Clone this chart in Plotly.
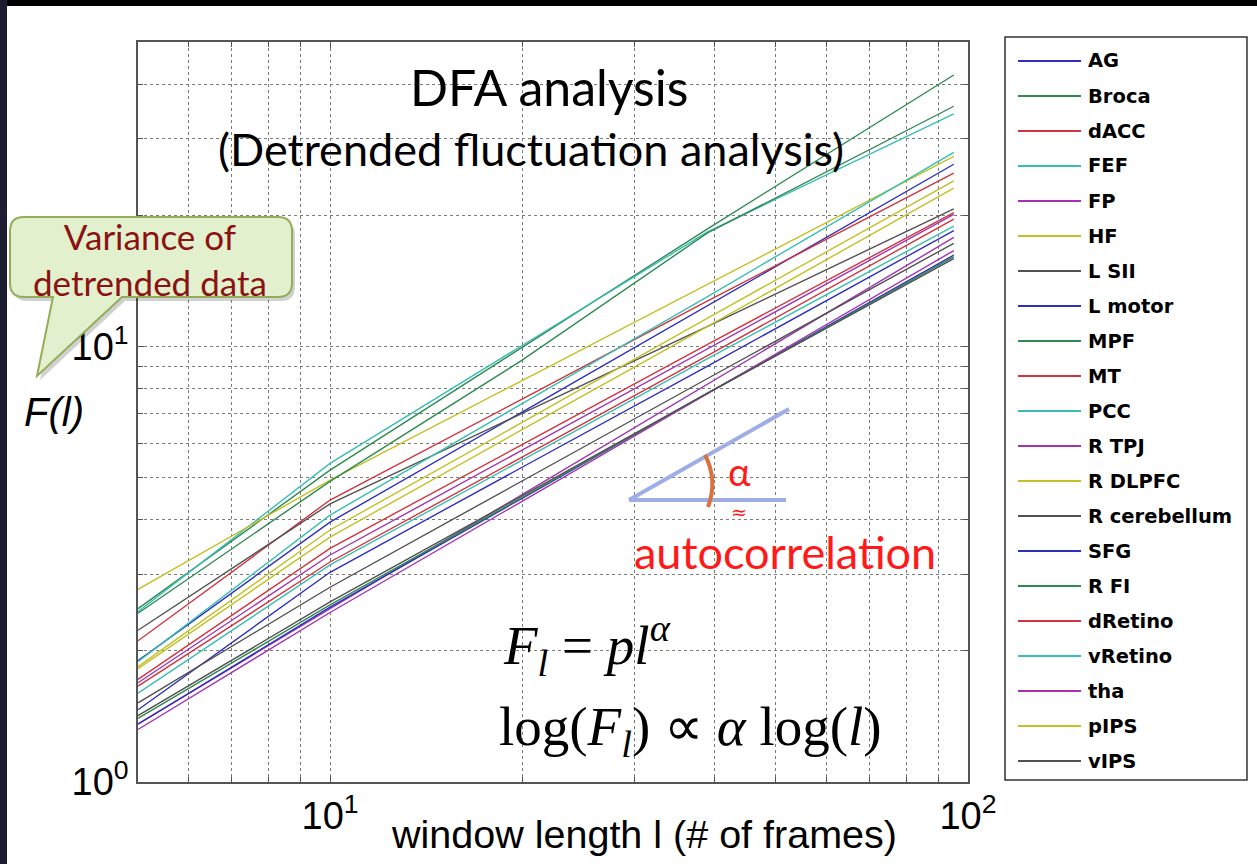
import plotly.graph_objects as go

# ---------------- data ----------------
window_length = [5, 10, 20, 39, 95]

regions = ["AG", "Broca", "dACC", "FEF", "FP", "HF", "L SII", "L motor", "MPF", "MT",
           "PCC", "R TPJ", "R DLPFC", "R cerebellum", "SFG", "R FI", "dRetino",
           "vRetino", "tha", "pIPS", "vIPS"]

F_AG          = [1.90, 3.95, 7.07, 12.4, 26.2]
F_Broca       = [2.50, 5.20, 9.95, 18.6, 42.0]
F_dACC        = [2.11, 4.44, 7.57, 12.7, 25.0]
F_FEF         = [2.46, 5.39, 10.05, 18.3, 34.2]
F_FP          = [1.69, 3.32, 5.78, 9.86, 20.1]
F_HF          = [2.77, 4.93, 8.35, 13.9, 27.3]
F_L_SII       = [2.23, 4.35, 7.02, 11.1, 20.7]
F_L_motor     = [1.465, 3.03, 5.28, 9.00, 18.45]
F_MPF         = [2.44, 4.90, 9.30, 18.2, 35.6]
F_MT          = [1.72, 3.44, 5.95, 10.1, 20.3]
F_PCC         = [1.89, 4.10, 7.39, 13.0, 27.9]
F_R_TPJ       = [1.36, 2.50, 4.57, 8.17, 17.8]
F_R_DLPFC     = [1.84, 3.79, 6.69, 11.6, 24.0]
F_R_cerebellum= [1.52, 2.80, 4.91, 8.43, 17.25]
F_SFG         = [1.357, 2.52, 4.48, 7.80, 16.2]
F_R_FI        = [1.40, 2.55, 4.50, 7.79, 16.05]
F_dRetino     = [1.66, 3.20, 5.57, 9.51, 19.6]
F_vRetino     = [1.60, 3.15, 5.48, 9.36, 18.9]
F_tha         = [1.32, 2.45, 4.41, 7.79, 16.6]
F_pIPS        = [1.82, 3.65, 6.44, 11.1, 23.1]
F_vIPS        = [1.42, 2.59, 4.54, 7.80, 15.9]

series_values = [F_AG, F_Broca, F_dACC, F_FEF, F_FP, F_HF, F_L_SII, F_L_motor, F_MPF,
                 F_MT, F_PCC, F_R_TPJ, F_R_DLPFC, F_R_cerebellum, F_SFG, F_R_FI,
                 F_dRetino, F_vRetino, F_tha, F_pIPS, F_vIPS]

x_tick_vals = [10, 100]
x_tick_text = ["10<sup>1</sup>", "10<sup>2</sup>"]
y_tick_vals = [1, 10]
y_tick_text = ["10<sup>0</sup>", "10<sup>1</sup>"]
x_minor = [6, 7, 8, 9, 20, 30, 40, 50, 60, 70, 80, 90]
y_minor = [2, 3, 4, 5, 6, 7, 8, 9, 20, 30, 40]

# ---------------- styles ----------------
palette = ["#2f2fbf", "#2f8a50", "#d0343f", "#38beb2", "#a234b2", "#c2c024", "#525252"]

W, H = 1257, 864
ML, MR, MT, MB = 138, 289, 42, 82
PW, PH = W - ML - MR, H - MT - MB


def px(x):
    return (x - ML) / PW


def py(y):
    return (H - MB - y) / PH


def P(x, y):
    return f"{px(x):.5f},{py(y):.5f}"


fig = go.Figure()
for i, (name, vals) in enumerate(zip(regions, series_values)):
    fig.add_trace(go.Scatter(x=window_length, y=vals, mode="lines", name=name,
                             line=dict(color=palette[i % 7], width=1.4),
                             showlegend=False))

grid_col = "#7c7c7c"
axis_common = dict(type="log", showline=True, linecolor="#555555", linewidth=1.5,
                   mirror="allticks", ticks="inside", ticklen=6, tickcolor="#555555",
                   showgrid=True, gridcolor=grid_col, griddash="dot", gridwidth=1.2,
                   zeroline=False,
                   tickfont=dict(family="Liberation Sans, Arial", size=38, color="black"))

fig.update_xaxes(range=[0.69897, 2.0], tickmode="array", tickvals=x_tick_vals,
                 ticktext=x_tick_text,
                 minor=dict(tickmode="array", tickvals=x_minor, ticks="inside", ticklen=5,
                            tickcolor="#555555", showgrid=True, gridcolor=grid_col,
                            griddash="dot", gridwidth=1.2),
                 **axis_common)
fig.update_yaxes(range=[0.0, 1.69897], tickmode="array", tickvals=y_tick_vals,
                 ticktext=y_tick_text, ticklabelstandoff=0,
                 minor=dict(tickmode="array", tickvals=y_minor, ticks="inside", ticklen=5,
                            tickcolor="#555555", showgrid=True, gridcolor=grid_col,
                            griddash="dot", gridwidth=1.2),
                 **axis_common)

shapes = []
annotations = []

# frame decorations of the slide
shapes.append(dict(type="rect", xref="paper", yref="paper", x0=px(0), x1=px(W),
                   y0=py(0), y1=py(6), fillcolor="black", line=dict(width=0), layer="above"))
shapes.append(dict(type="rect", xref="paper", yref="paper", x0=px(0), x1=px(7),
                   y0=py(0), y1=py(H), fillcolor="#1c1c32", line=dict(width=0), layer="above"))

# callout bubble
L, R, T, B, rr = 10, 292, 217, 297, 14
def bubble(dx=0, dy=0):
    pts = (f"M{P(L+rr+dx, T+dy)} L{P(R-rr+dx, T+dy)} Q{P(R+dx, T+dy)} {P(R+dx, T+rr+dy)} "
           f"L{P(R+dx, B-rr+dy)} Q{P(R+dx, B+dy)} {P(R-rr+dx, B+dy)} L{P(122+dx, B+dy)} "
           f"L{P(37+dx, 376+dy)} L{P(53+dx, B+dy)} L{P(L+rr+dx, B+dy)} "
           f"Q{P(L+dx, B+dy)} {P(L+dx, B-rr+dy)} L{P(L+dx, T+rr+dy)} Q{P(L+dx, T+dy)} {P(L+rr+dx, T+dy)} Z")
    return pts
shapes.append(dict(type="path", xref="paper", yref="paper", path=bubble(3, 4),
                   fillcolor="rgba(0,0,0,0.18)", line=dict(width=0), layer="above"))
shapes.append(dict(type="path", xref="paper", yref="paper", path=bubble(),
                   fillcolor="#e3f0cd", line=dict(color="#93ad58", width=2), layer="above"))
annotations.append(dict(xref="paper", yref="paper", x=px(150), y=py(259),
                        text="Variance of<br>detrended data", showarrow=False,
                        font=dict(family="Lato", size=35, color="#8a1212"),
                        xanchor="center", yanchor="middle", align="center"))

# slope triangle
tri_col = "#9fade6"
shapes.append(dict(type="line", xref="paper", yref="paper", x0=px(629), y0=py(500),
                   x1=px(789), y1=py(409), line=dict(color=tri_col, width=4), layer="above"))
shapes.append(dict(type="line", xref="paper", yref="paper", x0=px(629), y0=py(500),
                   x1=px(786), y1=py(500), line=dict(color=tri_col, width=4), layer="above"))
shapes.append(dict(type="path", xref="paper", yref="paper",
                   path=f"M{P(705, 455)} Q{P(718, 480)} {P(708, 507)}",
                   line=dict(color="#d9713f", width=4), layer="above"))

annotations += [
    dict(xref="paper", yref="paper", x=px(549), y=py(87), text="DFA analysis",
         showarrow=False, font=dict(family="Lato", size=50, color="black"),
         xanchor="center", yanchor="middle"),
    dict(xref="paper", yref="paper", x=px(531), y=py(149),
         text="(Detrended fluctuation analysis)", showarrow=False,
         font=dict(family="Lato", size=45, color="black"), xanchor="center", yanchor="middle"),
    dict(xref="paper", yref="paper", x=px(54), y=py(412), text="<i>F(l)</i>",
         showarrow=False, font=dict(family="Liberation Sans, Arial", size=40, color="black"),
         xanchor="center", yanchor="middle"),
    dict(xref="paper", yref="paper", x=px(644), y=py(834),
         text="window length l (# of frames)", showarrow=False,
         font=dict(family="Liberation Sans, Arial", size=39.5, color="black"),
         xanchor="center", yanchor="middle"),
    dict(xref="paper", yref="paper", x=px(739), y=py(471), text="α", showarrow=False,
         font=dict(family="Lato", size=38, color="#ff1a1a"), xanchor="center", yanchor="middle"),
    dict(xref="paper", yref="paper", x=px(739), y=py(512), text="≈", showarrow=False,
         font=dict(family="DejaVu Sans", size=19, color="#ff1a1a"),
         xanchor="center", yanchor="middle"),
    dict(xref="paper", yref="paper", x=px(785), y=py(552), text="autocorrelation",
         showarrow=False, font=dict(family="Lato", size=45, color="#ff1a1a"),
         xanchor="center", yanchor="middle"),
    dict(xref="paper", yref="paper", x=px(501), y=py(645),
         text="<i>F</i><sub><i>l</i></sub> = <i>pl</i><sup><i>α</i></sup>", showarrow=False,
         font=dict(family="Liberation Serif, Times New Roman", size=55, color="black"),
         xanchor="left", yanchor="middle"),
    dict(xref="paper", yref="paper", x=px(497), y=py(730),
         text="log(<i>F</i><sub><i>l</i></sub>) ∝ <i>α</i> log(<i>l</i>)", showarrow=False,
         font=dict(family="Liberation Serif, Times New Roman", size=55, color="black"),
         xanchor="left", yanchor="middle"),
]

# legend box
shapes.append(dict(type="rect", xref="paper", yref="paper", x0=px(1005), x1=px(1247),
                   y0=py(37), y1=py(780), fillcolor="white",
                   line=dict(color="#333333", width=1.5), layer="above"))
for i, name in enumerate(regions):
    yy = 61 + 35 * i
    shapes.append(dict(type="line", xref="paper", yref="paper", x0=px(1018), x1=px(1081),
                       y0=py(yy), y1=py(yy), line=dict(color=palette[i % 7], width=2),
                       layer="above"))
    annotations.append(dict(xref="paper", yref="paper", x=px(1086), y=py(yy), text=name,
                            showarrow=False, xanchor="left", yanchor="middle",
                            font=dict(family="DejaVu Sans", size=19.5, color="black",
                                      weight="bold")))

fig.update_layout(width=W, height=H, margin=dict(l=ML, r=MR, t=MT, b=MB),
                  paper_bgcolor="white", plot_bgcolor="white", showlegend=False,
                  shapes=shapes, annotations=annotations)

fig.write_html("out.html")
